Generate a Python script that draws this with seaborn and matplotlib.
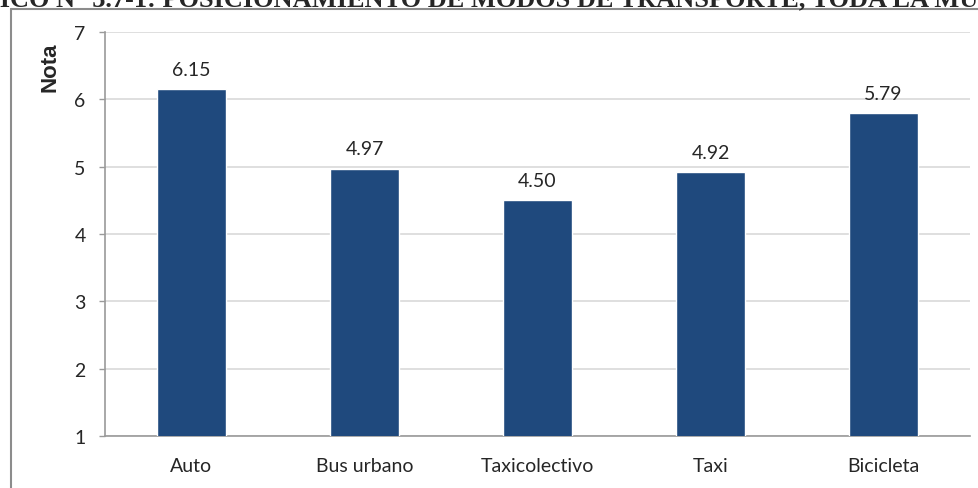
import matplotlib
matplotlib.use('Agg')
import matplotlib.pyplot as plt
import seaborn as sns
import pandas as pd
from matplotlib.lines import Line2D
from matplotlib.ticker import FixedLocator

# datos del gráfico
modos = ['Auto', 'Bus urbano', 'Taxicolectivo', 'Taxi', 'Bicicleta']
notas = [6.15, 4.97, 4.50, 4.92, 5.79]
y_ticks = [1, 2, 3, 4, 5, 6, 7]
titulo = 'GRÁFICO N° 3.7-1: POSICIONAMIENTO DE MODOS DE TRANSPORTE, TODA LA MUESTRA'

df = pd.DataFrame({'modo': modos, 'nota': notas})

sns.set_style('white')
plt.rcParams['font.family'] = ['Lato', 'DejaVu Sans']

fig = plt.figure(figsize=(9.79, 4.89), dpi=100)
ax = fig.add_axes([105 / 979, 1 - 437 / 489, 865 / 979, 404 / 489])

sns.barplot(data=df, x='modo', y='nota', color='#1F497D', width=0.4,
            saturation=1, ax=ax, zorder=3)

ax.set_ylim(1, 7)
ax.set_xlim(-0.5, len(modos) - 0.5)
ax.set_yticks(y_ticks)
ax.yaxis.grid(True, color='#D9D9D9', linewidth=1.2, zorder=0)
ax.set_axisbelow(True)
ax.set_xlabel('')
ax.set_ylabel('')

# marcas entre categorías
ax.xaxis.set_minor_locator(FixedLocator([i - 0.5 for i in range(len(modos) + 1)]))
ax.tick_params(axis='x', which='major', length=0, pad=15, labelsize=14, labelcolor='#262626')
ax.tick_params(axis='x', which='minor', length=6, width=1, color='#9a9a9a', direction='out')
ax.tick_params(axis='y', which='major', length=4, width=1, color='#9a9a9a', pad=10,
               labelsize=14, labelcolor='#262626', left=True)

for s in ['top', 'right']:
    ax.spines[s].set_visible(False)
for s in ['left', 'bottom']:
    ax.spines[s].set_color('#9a9a9a')
    ax.spines[s].set_linewidth(1.2)

# etiquetas de valor
for i, v in enumerate(notas):
    ax.text(i, v + 0.17, f'{v:.2f}', ha='center', va='bottom', fontsize=14, color='#262626')

# título del eje
fig.text(50 / 979, 1 - 67 / 489, 'Nota', rotation=90, ha='center', va='center',
         fontsize=16, fontweight='bold', family=['Liberation Sans', 'DejaVu Sans'])

# título cortado arriba
fig.text(-75 / 979, 1 - 6 / 489, titulo, ha='left', va='baseline', fontsize=19,
         fontweight='bold', family=['Liberation Serif', 'DejaVu Serif'])

# marco exterior
fig.add_artist(Line2D([11 / 979, 11 / 979], [1 - 10 / 489, -0.1], color='#8c8c8c', linewidth=1.5))
fig.add_artist(Line2D([11 / 979, 1.1], [1 - 10 / 489, 1 - 10 / 489], color='#8c8c8c', linewidth=1.5))

fig.savefig('out.png', dpi=100)
